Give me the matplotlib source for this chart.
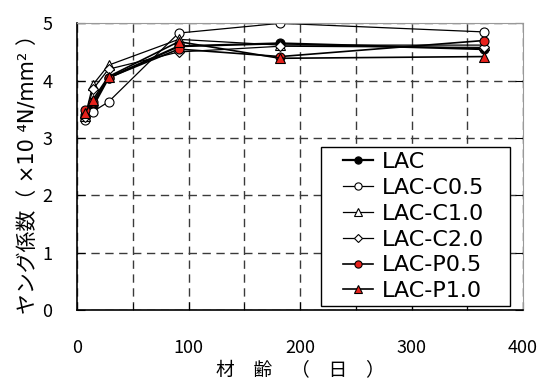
import matplotlib

matplotlib.use("Agg")

import matplotlib.pyplot as plt
from matplotlib.legend_handler import HandlerLine2D

plt.rcParams["font.family"] = ["Noto Sans CJK JP", "DejaVu Sans"]

# age in days
days = [7, 14, 28, 91, 182, 365]

lac = [3.40, 3.55, 4.05, 4.60, 4.65, 4.55]
lac_c05 = [3.32, 3.46, 3.63, 4.83, 5.00, 4.85]
lac_c10 = [3.38, 3.93, 4.27, 4.72, 4.62, 4.62]
lac_c20 = [3.36, 3.85, 4.20, 4.50, 4.60, 4.58]
lac_p05 = [3.48, 3.62, 4.05, 4.55, 4.42, 4.70]
lac_p10 = [3.44, 3.67, 4.07, 4.68, 4.39, 4.42]

x_ticks = [0, 100, 200, 300, 400]
y_ticks = [0, 1, 2, 3, 4, 5]

fig = plt.figure(figsize=(5.43, 3.81), dpi=100)
ax = fig.add_axes([0.1424, 0.1864, 0.8206, 0.7524])

red = "#e8221c"
series = [
    ("LAC", lac, "o", "black", 1.6),
    ("LAC-C0.5", lac_c05, "o", "white", 0.9),
    ("LAC-C1.0", lac_c10, "^", "white", 0.9),
    ("LAC-C2.0", lac_c20, "D", "white", 0.9),
    ("LAC-P0.5", lac_p05, "o", red, 1.2),
    ("LAC-P1.0", lac_p10, "^", red, 1.2),
]
lines = []
for label, vals, marker, face, lw in series:
    ms = 5 if marker == "D" else 6.5
    ln, = ax.plot(days, vals, marker=marker, color="black", markerfacecolor=face,
                  markeredgecolor="black", markeredgewidth=0.8, markersize=ms,
                  linewidth=lw, label=label)
    lines.append(ln)

ax.set_xlim(0, 400)
ax.set_ylim(0, 5)
ax.set_xticks(x_ticks)
ax.set_yticks(y_ticks)
ax.set_xticks(range(50, 400, 100), minor=True)
grid_style = dict(color="#3a3a3a", linestyle=(0, (6, 4)), linewidth=1.0)
ax.grid(True, which="both", axis="x", **grid_style)
ax.grid(True, which="major", axis="y", **grid_style)
ax.tick_params(direction="in", length=6, labelsize=13, right=True)
ax.tick_params(which="minor", direction="in", length=5)
ax.tick_params(axis="x", pad=21)
ax.tick_params(axis="y", pad=18)

for side in ("top", "right"):
    ax.spines[side].set_color("#999999")
for side in ("left", "bottom"):
    ax.spines[side].set_color("black")
    ax.spines[side].set_linewidth(1.2)

ax.set_xlabel("材　齢　（　日　）", fontsize=13.5)
ax.xaxis.set_label_coords(0.5, -0.176)
ax.set_ylabel("ヤング係数（ ×10 \u2074N/mm\u00b2 ）", fontsize=15,
              family=["DejaVu Sans", "Noto Sans CJK JP"])
ax.yaxis.set_label_coords(-0.089, 0.49)

leg = ax.legend(handles=lines, loc="lower left", mode="expand",
                bbox_to_anchor=(0.5468, 0.014, 0.424, 0.5),
                prop={"family": "DejaVu Sans", "size": 16},
                frameon=True, fancybox=False, edgecolor="black",
                handlelength=2.1, handletextpad=0.4, labelspacing=0.26,
                borderaxespad=0.0, borderpad=0.22, markerscale=0.8,
                handler_map={ln: HandlerLine2D(xpad=0.75) for ln in lines})
leg.get_frame().set_linewidth(1.0)
leg.get_frame().set_alpha(1)

fig.savefig("out.png", dpi=100)
